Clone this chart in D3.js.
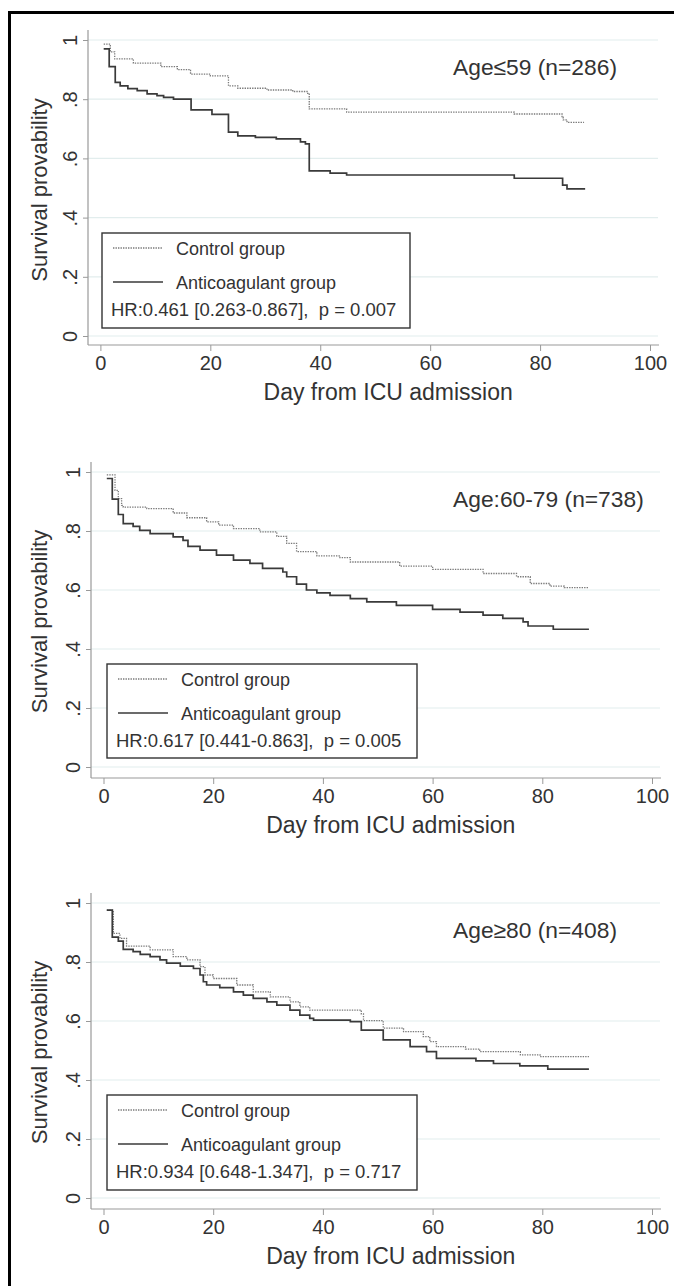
<!DOCTYPE html>
<html>
<head>
<meta charset="utf-8">
<script src="https://cdn.jsdelivr.net/npm/d3@7"></script>
<style>
  body { margin: 0; background: #fff; }
  text { font-family: "Liberation Sans", Arial, sans-serif; fill: #333; white-space: pre; }
</style>
</head>
<body>
<div id="chart"></div>
<script>
/* Kaplan-Meier curves by age group, three stacked panels */

// step points: [day, survival]
const ctrl59 = [[0.6,0.986],[1.8,0.96],[2.6,0.936],[6,0.922],[11,0.91],[14,0.9],[16.4,0.885],[20,0.879],[23.3,0.845],[25,0.837],[30.3,0.831],[35,0.826],[37.6,0.82],[38,0.767],[44.8,0.756],[75.3,0.75],[84,0.739],[84.2,0.73],[84.9,0.722],[88,0.722]];
const anti59 = [[0.6,0.97],[1.6,0.91],[2.7,0.857],[3.6,0.845],[5,0.836],[6.7,0.829],[8.5,0.818],[10.3,0.812],[11.5,0.806],[13.3,0.8],[16.5,0.764],[20.3,0.749],[23.3,0.689],[25,0.676],[28.2,0.671],[32,0.666],[36.4,0.656],[37.3,0.649],[38,0.558],[41.8,0.55],[44.8,0.544],[75.3,0.533],[84.1,0.51],[84.9,0.497],[88.2,0.497]];

const ctrl60 = [[0.6,0.99],[2.1,0.938],[2.7,0.91],[3.3,0.887],[3.6,0.881],[7.9,0.876],[12.7,0.861],[15.2,0.845],[18.8,0.831],[21,0.82],[23.7,0.808],[28.5,0.797],[31.6,0.782],[33.4,0.758],[35.2,0.73],[38.9,0.716],[43.1,0.71],[45,0.695],[54,0.681],[60,0.67],[69.2,0.656],[75.3,0.645],[77.8,0.622],[81.4,0.613],[84,0.608],[88.5,0.608]];
const anti60 = [[0.6,0.978],[1.6,0.908],[2.7,0.856],[3.6,0.825],[5.4,0.816],[6.6,0.802],[8.5,0.791],[12.7,0.78],[14.5,0.768],[15.4,0.748],[17.6,0.735],[20.6,0.718],[23.7,0.701],[26.7,0.69],[29,0.673],[32.7,0.661],[33.4,0.645],[35.2,0.62],[37,0.6],[38.9,0.59],[41.3,0.582],[45,0.571],[48,0.56],[53.4,0.548],[60,0.534],[65,0.525],[69.2,0.515],[72.8,0.504],[76.5,0.492],[77.4,0.478],[82,0.467],[88.5,0.467]];

const ctrl80 = [[0.6,0.976],[1.8,0.897],[3,0.88],[4.2,0.854],[8.5,0.841],[12.7,0.818],[15.2,0.807],[17.6,0.784],[18.5,0.756],[20,0.744],[24.3,0.722],[27.3,0.699],[30.4,0.682],[34,0.665],[35.8,0.648],[37.6,0.637],[47,0.624],[47.4,0.601],[51,0.576],[54.7,0.564],[58.3,0.547],[59.5,0.53],[60.7,0.513],[66,0.505],[68.6,0.496],[76,0.485],[79.6,0.479],[88.5,0.479]];
const anti80 = [[0.6,0.976],[1.6,0.884],[2.7,0.871],[3.6,0.843],[5.4,0.835],[6.7,0.826],[8.5,0.818],[10.3,0.807],[11.5,0.796],[14,0.786],[16.4,0.778],[17.6,0.756],[18.2,0.733],[18.8,0.722],[21.2,0.713],[23.7,0.699],[25.5,0.688],[27.3,0.677],[29.8,0.665],[31.6,0.654],[34,0.637],[35.8,0.62],[37.6,0.609],[38.3,0.603],[45,0.598],[47,0.569],[51,0.536],[55.9,0.513],[58.9,0.496],[60.7,0.473],[67.9,0.465],[71.1,0.456],[75.9,0.448],[81,0.437],[88.5,0.437]];

const panelTitles = ["Age\u226459 (n=286)", "Age:60-79 (n=738)", "Age\u226580 (n=408)"];
const hrLabels = ["HR:0.461 [0.263-0.867],  p = 0.007", "HR:0.617 [0.441-0.863],  p = 0.005", "HR:0.934 [0.648-1.347],  p = 0.717"];
const legendLabels = ["Control group", "Anticoagulant group"];
const xTicks = [0, 20, 40, 60, 80, 100];
const yTicks = [0, 0.2, 0.4, 0.6, 0.8, 1];
const ctrlSeries = [ctrl59, ctrl60, ctrl80];
const antiSeries = [anti59, anti60, anti80];

// layout of each panel (pixels)
const layout = [
  {axX: 88, x0: 100.4, x100: 650, y1: 40, y0: 336, axY: 345, lg: [102, 233, 410, 328]},
  {axX: 91, x0: 103.5, x100: 652, y1: 472, y0: 767, axY: 778, lg: [107, 664, 417, 758]},
  {axX: 91, x0: 103.5, x100: 652, y1: 903, y0: 1198, axY: 1209, lg: [107, 1095, 417, 1190]}
];

const W = 674, H = 1286;
const svg = d3.select("#chart").append("svg")
  .attr("width", W).attr("height", H);
svg.append("rect").attr("width", W).attr("height", H).attr("fill", "#fff");

// outer frame (top + left, the rest is cropped off)
svg.append("path")
  .attr("d", `M9.5,${H} V12.5 H${W}`)
  .attr("fill", "none").attr("stroke", "#000").attr("stroke-width", 3);

const fmtY = d => d === 0 ? "0" : d === 1 ? "1" : String(d).replace("0.", ".");

layout.forEach((L, i) => {
  const x = d3.scaleLinear().domain([0, 100]).range([L.x0, L.x100]);
  const y = d3.scaleLinear().domain([0, 1]).range([L.y0, L.y1]);
  const g = svg.append("g");
  const right = L.x100 + 8;

  // grid
  g.append("g").selectAll("line").data(yTicks).enter().append("line")
    .attr("x1", L.axX).attr("x2", right)
    .attr("y1", d => y(d)).attr("y2", d => y(d))
    .attr("stroke", "#e2eded").attr("stroke-width", 1.2);

  // x axis
  const gx = g.append("g").attr("transform", `translate(0,${L.axY})`)
    .call(d3.axisBottom(x).tickValues(xTicks).tickSize(6).tickFormat(d3.format("d")));
  gx.select(".domain").remove();
  gx.selectAll(".tick line").attr("stroke", "#999");
  gx.selectAll(".tick text")
    .attr("y", 25).attr("dy", 0)
    .attr("font-size", 20).attr("fill", "#333");
  gx.append("line").attr("x1", L.axX).attr("x2", right + 1)
    .attr("stroke", "#999").attr("stroke-width", 1.2);

  // y axis
  const gy = g.append("g").attr("transform", `translate(${L.axX},0)`)
    .call(d3.axisLeft(y).tickValues(yTicks).tickSize(5).tickFormat(fmtY));
  gy.select(".domain").remove();
  gy.selectAll(".tick line").attr("stroke", "#999");
  gy.selectAll(".tick text")
    .attr("x", 0).attr("dy", 0)
    .attr("text-anchor", "middle")
    .attr("transform", "translate(-11,0) rotate(-90)")
    .attr("font-size", 20).attr("fill", "#333");
  gy.append("line").attr("y1", L.y1 - 10).attr("y2", L.axY)
    .attr("stroke", "#999").attr("stroke-width", 1.2);

  // axis titles
  g.append("text")
    .attr("x", (L.x0 + L.x100) / 2 + 13).attr("y", L.axY + 55)
    .attr("text-anchor", "middle").attr("font-size", 23)
    .text("Day from ICU admission");
  g.append("text")
    .attr("transform", `translate(47,${(L.y0 + L.y1) / 2 + 2}) rotate(-90)`)
    .attr("text-anchor", "middle").attr("font-size", 22)
    .text("Survival provability");

  // panel label
  g.append("text")
    .attr("x", 453).attr("y", L.y1 + 35)
    .attr("font-size", 22.8).text(panelTitles[i]);

  // curves
  const line = d3.line().x(d => x(d[0])).y(d => y(d[1])).curve(d3.curveStepAfter);
  g.append("path").datum(ctrlSeries[i]).attr("d", line)
    .attr("fill", "none").attr("stroke", "#7a7a7a")
    .attr("stroke-width", 1.3).attr("stroke-dasharray", "1.4,1.1");
  g.append("path").datum(antiSeries[i]).attr("d", line)
    .attr("fill", "none").attr("stroke", "#3a3a3a").attr("stroke-width", 1.7);

  // legend
  const [lx, ly, lx2, ly2] = L.lg;
  const lg = g.append("g");
  lg.append("rect").attr("x", lx).attr("y", ly)
    .attr("width", lx2 - lx).attr("height", ly2 - ly)
    .attr("fill", "#fff").attr("stroke", "#333").attr("stroke-width", 1.4);
  const rows = [15, 49];
  rows.forEach((r, k) => {
    lg.append("line").attr("x1", lx + 11).attr("x2", lx + 61)
      .attr("y1", ly + r).attr("y2", ly + r)
      .attr("stroke", k === 0 ? "#7a7a7a" : "#3a3a3a")
      .attr("stroke-width", k === 0 ? 1.3 : 1.7)
      .attr("stroke-dasharray", k === 0 ? "1.4,1.1" : null);
    lg.append("text")
      .attr("x", lx + 74).attr("y", ly + r + 6.5)
      .attr("font-size", 18).text(legendLabels[k]);
  });
  lg.append("text")
    .attr("x", lx + 9).attr("y", ly + 83)
    .attr("font-size", 18.5).text(hrLabels[i]);
});
</script>
</body>
</html>
